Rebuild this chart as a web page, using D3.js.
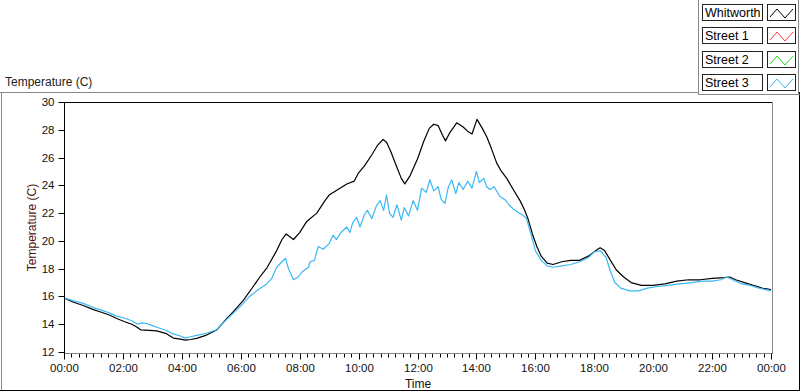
<!DOCTYPE html>
<html>
<head>
<meta charset="utf-8">
<script src="https://cdn.jsdelivr.net/npm/d3@7"></script>
<style>
  body { margin: 0; background: #fff; }
  svg { display: block; font-family: "Liberation Sans", Arial, sans-serif; }
  .tick text { font-size: 11.5px; fill: #111; }
</style>
</head>
<body>
<svg id="chart" width="800" height="392"></svg>
<script>
// series names for the legend
var seriesNames = ['Whitworth', 'Street 1', 'Street 2', 'Street 3'];
var seriesColors = ['#000000', '#ff3b3b', '#1ee01e', '#3ab8f5'];

// tick labels
var yTicks = [12, 14, 16, 18, 20, 22, 24, 26, 28, 30];
var xTicks = [0, 2, 4, 6, 8, 10, 12, 14, 16, 18, 20, 22, 24];

// Whitworth (hours since midnight, temperature)
var whitTime = [0, 0.3, 0.65, 1.0, 1.22, 1.56, 1.75, 2.04, 2.3, 2.47, 2.6, 2.9, 3.15, 3.48, 3.71, 3.9,
  4.12, 4.3, 4.5, 4.84, 5.18, 5.52, 5.75, 6.08, 6.35, 6.65, 6.9, 7.22, 7.4, 7.54, 7.79, 8.0,
  8.24, 8.58, 8.86, 9.0, 9.3, 9.6, 9.85, 10.0, 10.2, 10.45, 10.65, 10.83, 10.95, 11.1, 11.3, 11.45,
  11.57, 11.75, 12.0, 12.2, 12.4, 12.55, 12.7, 12.85, 12.95, 13.1, 13.33, 13.55, 13.7, 13.85, 14.02, 14.2,
  14.35, 14.5, 14.69, 14.85, 15.03, 15.25, 15.48, 15.62, 15.75, 15.9, 16.05, 16.2, 16.4, 16.6, 16.9, 17.2,
  17.5, 17.8, 18.05, 18.2, 18.35, 18.55, 18.75, 19.0, 19.25, 19.6, 20.0, 20.4, 20.8, 21.2, 21.6, 22.0,
  22.4, 22.6, 22.8, 23.1, 23.4, 23.7, 24.0];
var whitTemp = [15.9, 15.6, 15.35, 15.05, 14.9, 14.65, 14.45, 14.2, 14.0, 13.8, 13.6, 13.55, 13.52, 13.32, 13.0, 12.95,
  12.86, 12.9, 12.98, 13.22, 13.58, 14.4, 14.9, 15.7, 16.5, 17.4, 18.1, 19.3, 20.1, 20.5, 20.1, 20.6,
  21.4, 22.0, 22.9, 23.3, 23.7, 24.1, 24.3, 24.9, 25.4, 26.2, 26.9, 27.3, 27.1, 26.4, 25.3, 24.5,
  24.1, 24.7, 25.9, 27.1, 28.1, 28.4, 28.3, 27.6, 27.2, 27.8, 28.5, 28.2, 27.9, 27.7, 28.75, 28.1,
  27.5, 26.7, 25.6, 25.0, 24.5, 23.7, 22.9, 22.3, 21.6, 20.5, 19.6, 18.9, 18.4, 18.3, 18.5, 18.6,
  18.6, 18.9, 19.3, 19.5, 19.3, 18.6, 17.9, 17.4, 17.0, 16.8, 16.8, 16.9, 17.1, 17.2, 17.2, 17.3,
  17.35, 17.4, 17.2, 17.0, 16.8, 16.6, 16.5];

// Street 3
var st3Time = [0, 0.3, 0.65, 1.0, 1.22, 1.56, 1.75, 2.04, 2.3, 2.5, 2.65, 2.8, 3.0, 3.2, 3.48, 3.71,
  3.95, 4.12, 4.3, 4.5, 4.84, 5.18, 5.45, 5.75, 6.0, 6.3, 6.6, 6.88, 7.05, 7.22, 7.4, 7.52,
  7.62, 7.79, 7.95, 8.1, 8.3, 8.35, 8.5, 8.63, 8.8, 9.0, 9.13, 9.25, 9.4, 9.6, 9.7, 9.8,
  9.93, 10.05, 10.2, 10.3, 10.45, 10.6, 10.73, 10.85, 10.95, 11.05, 11.17, 11.3, 11.45, 11.55, 11.7, 11.85,
  12.0, 12.14, 12.3, 12.42, 12.55, 12.7, 12.8, 12.93, 13.05, 13.16, 13.3, 13.4, 13.55, 13.7, 13.85, 14.0,
  14.1, 14.25, 14.35, 14.46, 14.6, 14.8, 15.0, 15.1, 15.25, 15.45, 15.55, 15.7, 15.85, 16.0, 16.2, 16.4,
  16.6, 16.9, 17.2, 17.5, 17.8, 18.0, 18.2, 18.4, 18.55, 18.7, 18.9, 19.2, 19.5, 19.8, 20.1, 20.5,
  20.9, 21.3, 21.7, 22.0, 22.3, 22.5, 22.7, 23.0, 23.3, 23.6, 24.0];
var st3Temp = [15.9, 15.7, 15.5, 15.2, 15.05, 14.8, 14.6, 14.45, 14.25, 14.0, 14.1, 14.05, 13.9, 13.75, 13.55, 13.3,
  13.15, 13.0, 13.1, 13.2, 13.35, 13.6, 14.2, 14.8, 15.3, 16.0, 16.5, 16.9, 17.3, 18.1, 18.5, 18.75,
  18.0, 17.2, 17.4, 17.8, 18.1, 18.5, 18.6, 19.6, 19.4, 19.8, 20.4, 20.1, 20.6, 21.0, 20.6, 21.3,
  21.7, 21.0, 21.9, 22.2, 21.6, 22.5, 22.9, 22.2, 23.3, 22.0, 21.7, 22.6, 21.5, 22.4, 21.8, 22.9,
  22.2, 23.8, 23.5, 24.4, 23.6, 23.9, 23.0, 22.7, 23.9, 24.4, 23.4, 24.2, 23.7, 24.3, 23.8, 25.0,
  24.2, 24.5, 23.9, 23.7, 23.9, 23.2, 22.9, 22.6, 22.3, 22.0, 21.9, 21.6, 20.5, 19.3, 18.6, 18.2,
  18.1, 18.2, 18.3, 18.5, 18.8, 19.2, 19.3, 18.8, 17.8, 17.0, 16.6, 16.4, 16.4, 16.6, 16.7, 16.8,
  16.9, 17.0, 17.1, 17.1, 17.2, 17.4, 17.2, 16.9, 16.8, 16.6, 16.4];

var svg = d3.select('#chart');
var plot = { left: 64, top: 102, right: 772, bottom: 353 };

// panel frames
function line(x1, y1, x2, y2, color) {
  svg.append('line')
    .attr('x1', x1).attr('y1', y1).attr('x2', x2).attr('y2', y2)
    .attr('stroke', color).attr('stroke-width', 1)
    .attr('shape-rendering', 'crispEdges');
}
line(0, 92.5, 698, 92.5, '#888');
line(1.5, 92, 1.5, 390, '#888');
line(0, 390.5, 800, 390.5, '#000');
line(799.5, 92, 799.5, 391, '#000');
line(698.5, 0, 698.5, 94, '#888');
line(698, 94.5, 800, 94.5, '#888');
line(798.5, 0, 798.5, 94, '#888');

svg.append('text')
  .attr('x', 5).attr('y', 86)
  .attr('font-size', 12).attr('fill', '#222')
  .text('Temperature (C)');

var x = d3.scaleLinear().domain([0, 24]).range([plot.left, plot.right - 1]);
var y = d3.scaleLinear().domain([12, 30]).range([plot.bottom - 1, plot.top]);

// plot frame
line(plot.left, plot.top + 0.5, plot.right, plot.top + 0.5, '#000');
line(plot.right + 0.5, plot.top, plot.right + 0.5, plot.bottom, '#888');

// x axis, with minor ticks every 15 minutes
var minor = d3.range(0, 24.01, 0.25);
var xAxisG = svg.append('g').attr('transform', 'translate(0,' + (plot.bottom + 0.5) + ')');
xAxisG.selectAll('line.minor').data(minor).enter().append('line')
  .attr('class', 'minor')
  .attr('x1', function(d) { return Math.round(x(d)) + 0.5; })
  .attr('x2', function(d) { return Math.round(x(d)) + 0.5; })
  .attr('y1', 0).attr('y2', 4)
  .attr('stroke', '#000');
xAxisG.call(d3.axisBottom(x)
  .tickValues(xTicks)
  .tickSize(6)
  .tickPadding(4)
  .tickFormat(function(d) { return d3.format('02d')(d % 24) + ':00'; }));
xAxisG.select('.domain').attr('stroke', '#888').attr('d', 'M' + plot.left + ',0H' + (plot.right + 1));
xAxisG.selectAll('.tick line').attr('stroke', '#000').attr('transform', 'translate(0.5,0)');
xAxisG.selectAll('.tick').attr('transform', function(d) { return 'translate(' + Math.round(x(d)) + ',0)'; });
xAxisG.selectAll('.tick text').attr('x', 0.5);

// y axis
var yAxisG = svg.append('g').attr('transform', 'translate(' + (plot.left + 0.5) + ',0)');
yAxisG.call(d3.axisLeft(y)
  .tickValues(yTicks)
  .tickSize(6)
  .tickPadding(4));
yAxisG.select('.domain').attr('stroke', '#000').attr('d', 'M0,' + plot.top + 'V' + (plot.bottom + 1));
yAxisG.selectAll('.tick line').attr('stroke', '#000');
yAxisG.selectAll('.tick').attr('transform', function(d) { return 'translate(0,' + (Math.round(y(d)) + 0.5) + ')'; });

// axis titles
svg.append('text')
  .attr('x', (plot.left + plot.right) / 2).attr('y', 388)
  .attr('text-anchor', 'middle').attr('font-size', 12).attr('fill', '#111')
  .text('Time');
svg.append('text')
  .attr('transform', 'translate(36,' + ((plot.top + plot.bottom) / 2) + ') rotate(-90)')
  .attr('text-anchor', 'middle').attr('font-size', 12).attr('fill', '#4a1414')
  .text('Temperature (C)');

// data lines
svg.append('clipPath').attr('id', 'plotclip').append('rect')
  .attr('x', plot.left + 1).attr('y', plot.top + 1)
  .attr('width', plot.right - plot.left - 1).attr('height', plot.bottom - plot.top - 1);

var lineGen = d3.line()
  .x(function(d) { return x(d[0]); })
  .y(function(d) { return y(d[1]); });

var series = [
  { name: 'Whitworth', color: seriesColors[0], pts: d3.zip(whitTime, whitTemp) },
  { name: 'Street 3', color: seriesColors[3], pts: d3.zip(st3Time, st3Temp) }
];

svg.append('g').attr('clip-path', 'url(#plotclip)')
  .selectAll('path').data(series).enter().append('path')
  .attr('d', function(d) { return lineGen(d.pts); })
  .attr('fill', 'none')
  .attr('stroke', function(d) { return d.color; })
  .attr('stroke-width', 1.2)
  .attr('stroke-linejoin', 'round');

// legend
var legend = svg.append('g').selectAll('g').data(seriesNames).enter().append('g')
  .attr('transform', function(d, i) { return 'translate(0,' + Math.round(4 + i * 23.3) + ')'; });
legend.append('rect')
  .attr('x', 702.5).attr('y', 0.5).attr('width', 60).attr('height', 16)
  .attr('fill', '#fff').attr('stroke', '#222').attr('shape-rendering', 'crispEdges');
legend.append('text')
  .attr('x', 705).attr('y', 13)
  .attr('font-size', 12.5).attr('fill', '#000')
  .text(function(d) { return d; });
legend.append('rect')
  .attr('x', 767.5).attr('y', 0.5).attr('width', 28).attr('height', 16)
  .attr('fill', '#fff').attr('stroke', '#222').attr('shape-rendering', 'crispEdges');
legend.append('path')
  .attr('d', 'M770,13L777,5L785,14L793,5')
  .attr('fill', 'none')
  .attr('stroke', function(d, i) { return seriesColors[i]; })
  .attr('stroke-width', 1);
</script>
</body>
</html>
